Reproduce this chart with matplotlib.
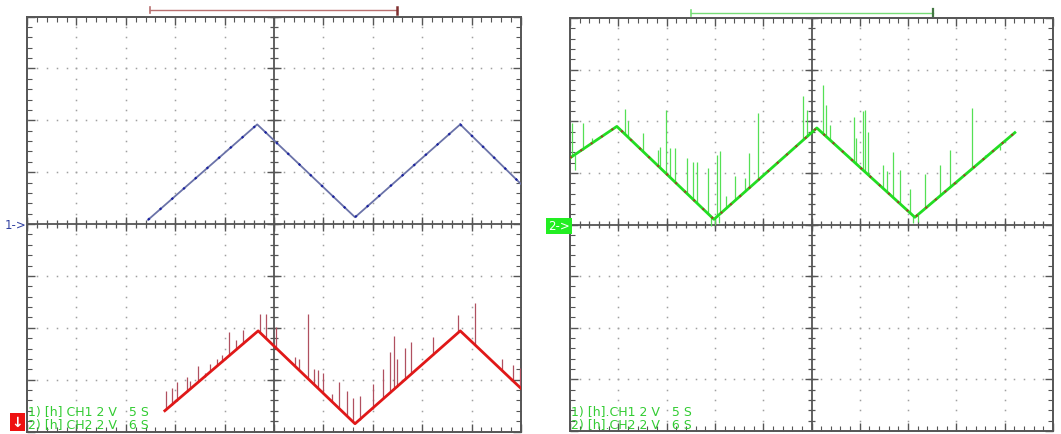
import numpy as np
import matplotlib.pyplot as plt

# 左画面: CH1 (青) の三角波の頂点 [div]
ch1_x = [2.45, 4.66, 6.64, 8.77, 10.0]
ch1_y = [0.08, 1.92, 0.13, 1.92, 0.77]

# 左画面: CH2 (赤) の三角波の頂点 [div]
ch2_x = [2.79, 4.68, 6.64, 8.77, 10.0]
ch2_y = [-3.60, -2.06, -3.85, -2.06, -3.17]

# CH2 (赤) のスパイク: 位置, 根元, 先端 [div]
red_spk_x = [2.81, 2.93, 3.03, 3.23, 3.30, 3.47, 3.60, 3.70, 3.84, 3.94, 4.09, 4.23, 4.37, 4.51,
             4.72, 4.84, 5.05, 5.43, 5.51, 5.69, 5.80, 5.90, 6.00, 6.17, 6.32, 6.47, 6.59, 6.74,
             7.00, 7.21, 7.35, 7.42, 7.48, 7.65, 7.77, 8.22, 8.73, 9.07, 9.61, 9.84, 9.97]
red_spk_base = [-3.58, -3.49, -3.41, -3.24, -3.18, -3.05, -2.94, -2.86, -2.74, -2.66, -2.54, -2.43, -2.31, -2.20,
                -2.10, -2.21, -2.40, -2.74, -2.82, -2.98, -3.08, -3.17, -3.27, -3.42, -3.56, -3.70, -3.81, -3.77,
                -3.56, -3.37, -3.25, -3.19, -3.14, -3.00, -2.90, -2.52, -2.09, -2.33, -2.82, -3.02, -3.14]
red_spk_top = [-3.21, -3.17, -3.04, -2.94, -3.02, -2.74, -2.88, -2.69, -2.60, -2.53, -2.08, -2.24, -2.05, -2.15,
               -1.73, -1.73, -1.98, -2.56, -2.60, -1.73, -2.79, -2.82, -2.88, -3.27, -3.04, -3.21, -3.35, -3.32,
               -3.08, -2.79, -2.47, -2.16, -2.60, -2.39, -2.27, -2.18, -1.76, -1.53, -2.60, -2.72, -2.77]

# 右画面: CH2 (緑) の三角波の頂点 [div]
ch2r_x = [0.0, 0.97, 2.98, 5.11, 7.14, 9.21]
ch2r_y = [1.29, 1.90, 0.10, 1.87, 0.14, 1.78]

# 緑のスパイク: 位置, 根元, 先端 [div]
grn_spk_x = [0.035, 0.10, 0.26, 0.46, 1.14, 1.21, 1.52, 1.83, 1.86, 1.99, 2.07, 2.17, 2.42, 2.55, 2.62,
             2.86, 3.04, 3.11, 3.24, 3.42, 3.62, 3.71, 3.90, 4.83, 4.91, 5.24, 5.31, 5.38, 5.87, 5.92,
             6.07, 6.11, 6.18, 6.49, 6.56, 6.69, 6.83, 7.04, 7.35, 7.66, 7.87, 8.32, 8.59, 8.90,
             2.92, 3.00, 3.08, 7.10, 7.20]
grn_spk_base = [1.31, 1.35, 1.45, 1.58, 1.75, 1.69, 1.41, 1.13, 1.10, 0.99, 0.92, 0.83, 0.60, 0.49, 0.42,
                0.21, 0.15, 0.21, 0.32, 0.47, 0.63, 0.71, 0.86, 1.64, 1.70, 1.76, 1.70, 1.64, 1.22, 1.18,
                1.05, 1.02, 0.96, 0.69, 0.63, 0.52, 0.40, 0.23, 0.31, 0.55, 0.72, 1.07, 1.29, 1.53,
                0.15, 0.10, 0.17, 0.17, 0.19]
grn_spk_top = [1.97, 1.06, 1.97, 1.68, 2.24, 2.00, 1.77, 1.45, 1.51, 2.21, 1.48, 1.48, 1.28, 1.22, 1.22,
               1.10, 1.35, 1.42, 0.55, 0.93, 0.90, 1.39, 2.16, 2.48, 2.22, 2.71, 2.32, 1.93, 2.09, 1.68,
               2.19, 2.22, 1.80, 1.16, 1.03, 1.41, 1.06, 0.68, 0.97, 1.16, 1.45, 2.26, 1.35, 1.45,
               -0.02, 0.00, 0.02, 0.02, 0.05]

# 画面下の設定表示
label_left = ["1) [h] CH1 2 V   5 S", "2) [h] CH2 2 V   6 S"]
label_right = ["1) [h].CH1 2 V   5 S", "2) [h].CH2 2 V   6 S"]

W, H = 1061, 435
fig = plt.figure(figsize=(W / 100, H / 100), dpi=100)
fig.patch.set_facecolor('white')


def scope_axes(px):
    # px = (left, top, right, bottom) in pixel
    l, t, r, b = px
    ax = fig.add_axes([l / W, (H - b) / H, (r - l) / W, (b - t) / H])
    ax.set_xlim(0, 10)
    ax.set_ylim(-4, 4)
    ax.set_xticks(np.arange(0, 11, 1))
    ax.set_yticks(np.arange(-4, 5, 1))
    ax.set_xticks(np.arange(0, 10.01, 0.2), minor=True)
    ax.set_yticks(np.arange(-4, 4.01, 0.2), minor=True)
    ax.tick_params(which='both', direction='in', top=True, right=True,
                   labelbottom=False, labelleft=False, color='#555555')
    ax.tick_params(which='major', length=6, width=1.0)
    ax.tick_params(which='minor', length=3.5, width=0.8)
    for s in ax.spines.values():
        s.set_color('#555555')
        s.set_linewidth(1.4)
    # 点線グリッド
    d = np.arange(0, 10.01, 0.2)
    e = np.arange(-4, 4.01, 0.2)
    for gx in [1, 2, 3, 4, 6, 7, 8, 9]:
        ax.plot(np.full_like(e, gx), e, ls='none', marker='s', ms=1.1, color='#a0a0a0', mew=0)
    for gy in [-3, -2, -1, 1, 2, 3]:
        ax.plot(d, np.full_like(d, gy), ls='none', marker='s', ms=1.1, color='#a0a0a0', mew=0)
    # 中央軸と目盛
    ax.axhline(0, color='#555555', lw=1.3)
    ax.axvline(5, color='#555555', lw=1.3)
    ax.vlines(d, -0.07, 0.07, color='#555555', lw=0.9)
    ax.vlines(np.arange(0, 11, 1), -0.13, 0.13, color='#555555', lw=1.0)
    ax.hlines(e, 4.92, 5.08, color='#555555', lw=0.9)
    ax.hlines(np.arange(-4, 5, 1), 4.86, 5.14, color='#555555', lw=1.0)
    return ax


# ---- 左画面 ----
ax1 = scope_axes((27, 17.5, 521, 432.5))
ax1.plot(ch1_x, ch1_y, color='#6a72a8', lw=1.3, zorder=5)
ax1.plot(ch1_x, ch1_y, color='#1a22a0', lw=1.6, ls=(0, (1, 6)), zorder=6)
ax1.vlines(red_spk_x, red_spk_base, red_spk_top, color='#b05060', lw=0.9, zorder=5)
ax1.plot(ch2_x, ch2_y, color='#e01818', lw=2.0, zorder=6)
ax1.plot([2.49, 7.49], [4.12, 4.12], color='#b87070', lw=1.0, clip_on=False)
ax1.plot([2.49, 2.49], [4.06, 4.18], color='#b87070', lw=1.2, clip_on=False)
ax1.plot([7.49, 7.49], [4.05, 4.19], color='#803030', lw=1.8, clip_on=False)
for i, s in enumerate(label_left):
    ax1.text(0.02, -3.62 - i * 0.25, s, color='#33cc33', fontsize=9, va='center', ha='left', zorder=8)

# ---- 右画面 ----
ax2 = scope_axes((570, 19, 1053, 432))
ax2.vlines(grn_spk_x, grn_spk_base, grn_spk_top, color='#55e055', lw=0.9, zorder=5)
ax2.plot(ch2r_x, ch2r_y, color='#22dd22', lw=2.0, zorder=6)
ax2.plot(ch2r_x, ch2r_y, color='#a03c28', lw=1.5, ls=(0, (1, 5)), zorder=7)
ax2.plot([2.5, 7.52], [4.10, 4.10], color='#77dd77', lw=1.0, clip_on=False)
ax2.plot([2.5, 2.5], [4.04, 4.16], color='#77dd77', lw=1.2, clip_on=False)
ax2.plot([7.52, 7.52], [4.03, 4.17], color='#447744', lw=1.6, clip_on=False)
for i, s in enumerate(label_right):
    ax2.text(0.02, -3.62 - i * 0.25, s, color='#33cc33', fontsize=9, va='center', ha='left', zorder=8)

# チャンネルマーカー
fig.text(5 / W, 1 - 226 / H, '1->', color='#3040a0', fontsize=8.5, va='center', ha='left')
fig.text(559 / W, 1 - 227 / H, '2->', color='white', fontsize=8.5, va='center', ha='center',
         bbox=dict(boxstyle='square,pad=0.15', fc='#22ee22', ec='none'))
fig.text(17.5 / W, 1 - 423 / H, '↓', color='white', fontsize=10, fontweight='bold', va='center', ha='center',
         bbox=dict(boxstyle='square,pad=0.15', fc='#ee1111', ec='none'))

plt.savefig('out.png', dpi=100)
